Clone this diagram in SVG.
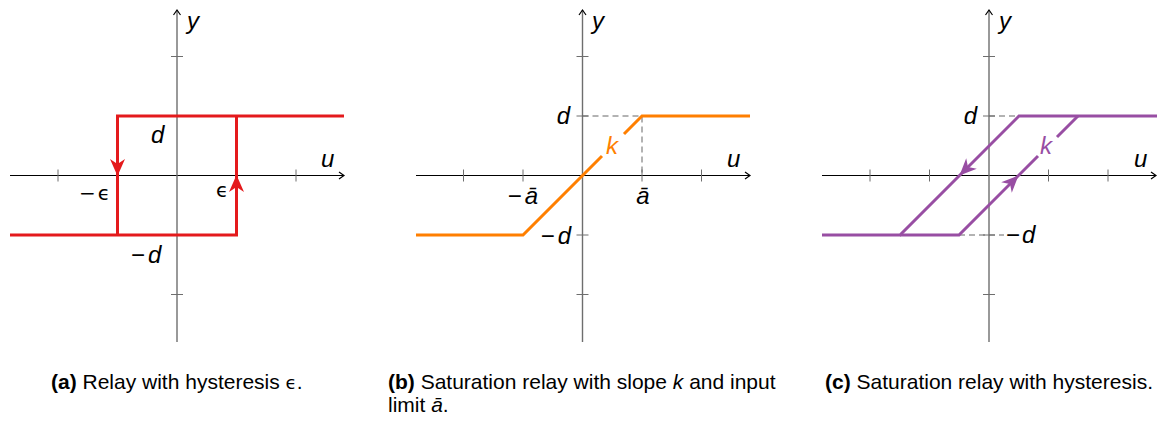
<svg xmlns="http://www.w3.org/2000/svg" width="1161" height="421" viewBox="0 0 1161 421">
<style>
.xaxis{stroke:#000;stroke-width:1;fill:none}
.yaxis{stroke:#6e6e6e;stroke-width:1.4;fill:none}
.tick{stroke:#6e6e6e;stroke-width:1;fill:none}
.dash{stroke:#666;stroke-width:1;fill:none;stroke-dasharray:6 4}
.lab{font-family:"Liberation Sans",Arial,sans-serif;font-style:italic;font-size:24px;fill:#000}
.mn{font-style:normal}
.eps{font-family:"DejaVu Sans","Liberation Sans",sans-serif;font-size:20px;fill:#000}
.cap{font-family:"Liberation Sans",Arial,sans-serif;font-size:21px;fill:#000}
.red{stroke:#e41a1c;stroke-width:3;fill:none}
.org{stroke:#ff7f00;stroke-width:3;fill:none}
.pur{stroke:#984ea3;stroke-width:3;fill:none}
</style>
<defs>
<marker id="ax" markerWidth="10" markerHeight="10" refX="7" refY="5" orient="auto" markerUnits="userSpaceOnUse">
<path d="M2,1.5 L7,5 L2,8.5" fill="none" stroke="#000" stroke-width="1.2"/>
</marker>
<path id="ah" d="M0,0 L-17,-7.5 L-12,0 L-17,7.5 Z"/>
</defs>

<g id="panel-a">
<g id="axes-a">
<line class="xaxis" x1="10" y1="175.5" x2="344" y2="175.5" marker-end="url(#ax)"/>
<line class="yaxis" x1="177" y1="342" x2="177" y2="10" marker-end="url(#ax)"/>
<path class="tick" d="M58,169.5 V181.5 M117.5,169.5 V181.5 M236.5,169.5 V181.5 M296,169.5 V181.5 M171,56.5 H183 M171,116 H183 M171,235 H183 M171,294.5 H183"/>
</g>
<g id="curve-a">
<path class="red" d="M10,235 H236.5 V116 M344,116 H117.5 V235"/>
<use href="#ah" fill="#e41a1c" transform="translate(117.5,176) rotate(90)"/>
<use href="#ah" fill="#e41a1c" transform="translate(236.5,175) rotate(-90)"/>
</g>
<text class="lab" x="187" y="29">y</text>
<text class="lab" x="321" y="167">u</text>
<text class="lab" x="151" y="143">d</text>
<text class="lab" x="131" y="263"><tspan class="mn">−</tspan><tspan dx="3">d</tspan></text>
<text class="eps" x="79" y="200">−<tspan dx="2">ϵ</tspan></text>
<text class="eps" x="216" y="197">ϵ</text>
</g>

<g id="panel-b">
<g id="axes-b">
<line class="xaxis" x1="416" y1="175.5" x2="750" y2="175.5" marker-end="url(#ax)"/>
<line class="yaxis" x1="582.5" y1="342" x2="582.5" y2="10" marker-end="url(#ax)"/>
<path class="tick" d="M463.5,169.5 V181.5 M523,169.5 V181.5 M642,169.5 V181.5 M701.5,169.5 V181.5 M576.5,56.5 H588.5 M576.5,116 H588.5 M576.5,235 H588.5 M576.5,294.5 H588.5"/>
<path class="dash" d="M582.5,116 H642 V175.5"/>
</g>
<g id="curve-b">
<path class="org" d="M416,235 H523 L602,156 M624,134 L642,116 H750"/>
</g>
<text class="lab" x="592" y="29">y</text>
<text class="lab" x="727" y="167">u</text>
<text class="lab" x="570" y="124" text-anchor="end">d</text>
<text class="lab" x="571" y="244" text-anchor="end"><tspan class="mn">−</tspan><tspan dx="3">d</tspan></text>
<text class="lab" x="523" y="204" text-anchor="middle"><tspan class="mn">−</tspan><tspan dx="3">ā</tspan></text>
<text class="lab" x="643" y="204" text-anchor="middle">ā</text>
<text class="lab" x="606" y="154" style="fill:#ff7f00">k</text>
</g>

<g id="panel-c">
<g id="axes-c">
<line class="xaxis" x1="822" y1="175.5" x2="1156" y2="175.5" marker-end="url(#ax)"/>
<line class="yaxis" x1="989" y1="342" x2="989" y2="10" marker-end="url(#ax)"/>
<path class="tick" d="M870,169.5 V181.5 M929.5,169.5 V181.5 M1048.5,169.5 V181.5 M1108,169.5 V181.5 M983,56.5 H995 M983,116 H995 M983,235 H995 M983,294.5 H995"/>
<path class="dash" d="M989,116 H1019 M959,235 H1004"/>
</g>
<g id="curve-c">
<path class="pur" d="M1157,116 H1019 L900,235 H822"/>
<path class="pur" d="M900,235 H959 L1038,156 M1057,137 L1078,116"/>
<use href="#ah" fill="#984ea3" transform="translate(959.5,175.5) rotate(135)"/>
<use href="#ah" fill="#984ea3" transform="translate(1018.5,175.5) rotate(-45)"/>
</g>
<text class="lab" x="999" y="29">y</text>
<text class="lab" x="1134" y="167">u</text>
<text class="lab" x="977" y="124" text-anchor="end">d</text>
<text class="lab" x="1006" y="243"><tspan class="mn">−</tspan><tspan dx="2">d</tspan></text>
<text class="lab" x="1040" y="154" style="fill:#984ea3">k</text>
</g>

<g id="captions">
<text class="cap" x="51" y="389"><tspan font-weight="bold">(a)</tspan> Relay with hysteresis <tspan font-family="DejaVu Sans" font-size="18">ϵ</tspan>.</text>
<text class="cap" x="388" y="389"><tspan font-weight="bold">(b)</tspan> Saturation relay with slope <tspan font-style="italic">k</tspan> and input</text>
<text class="cap" x="388" y="412">limit <tspan font-style="italic">ā</tspan>.</text>
<text class="cap" x="825" y="389"><tspan font-weight="bold">(c)</tspan> Saturation relay with hysteresis.</text>
</g>
</svg>
